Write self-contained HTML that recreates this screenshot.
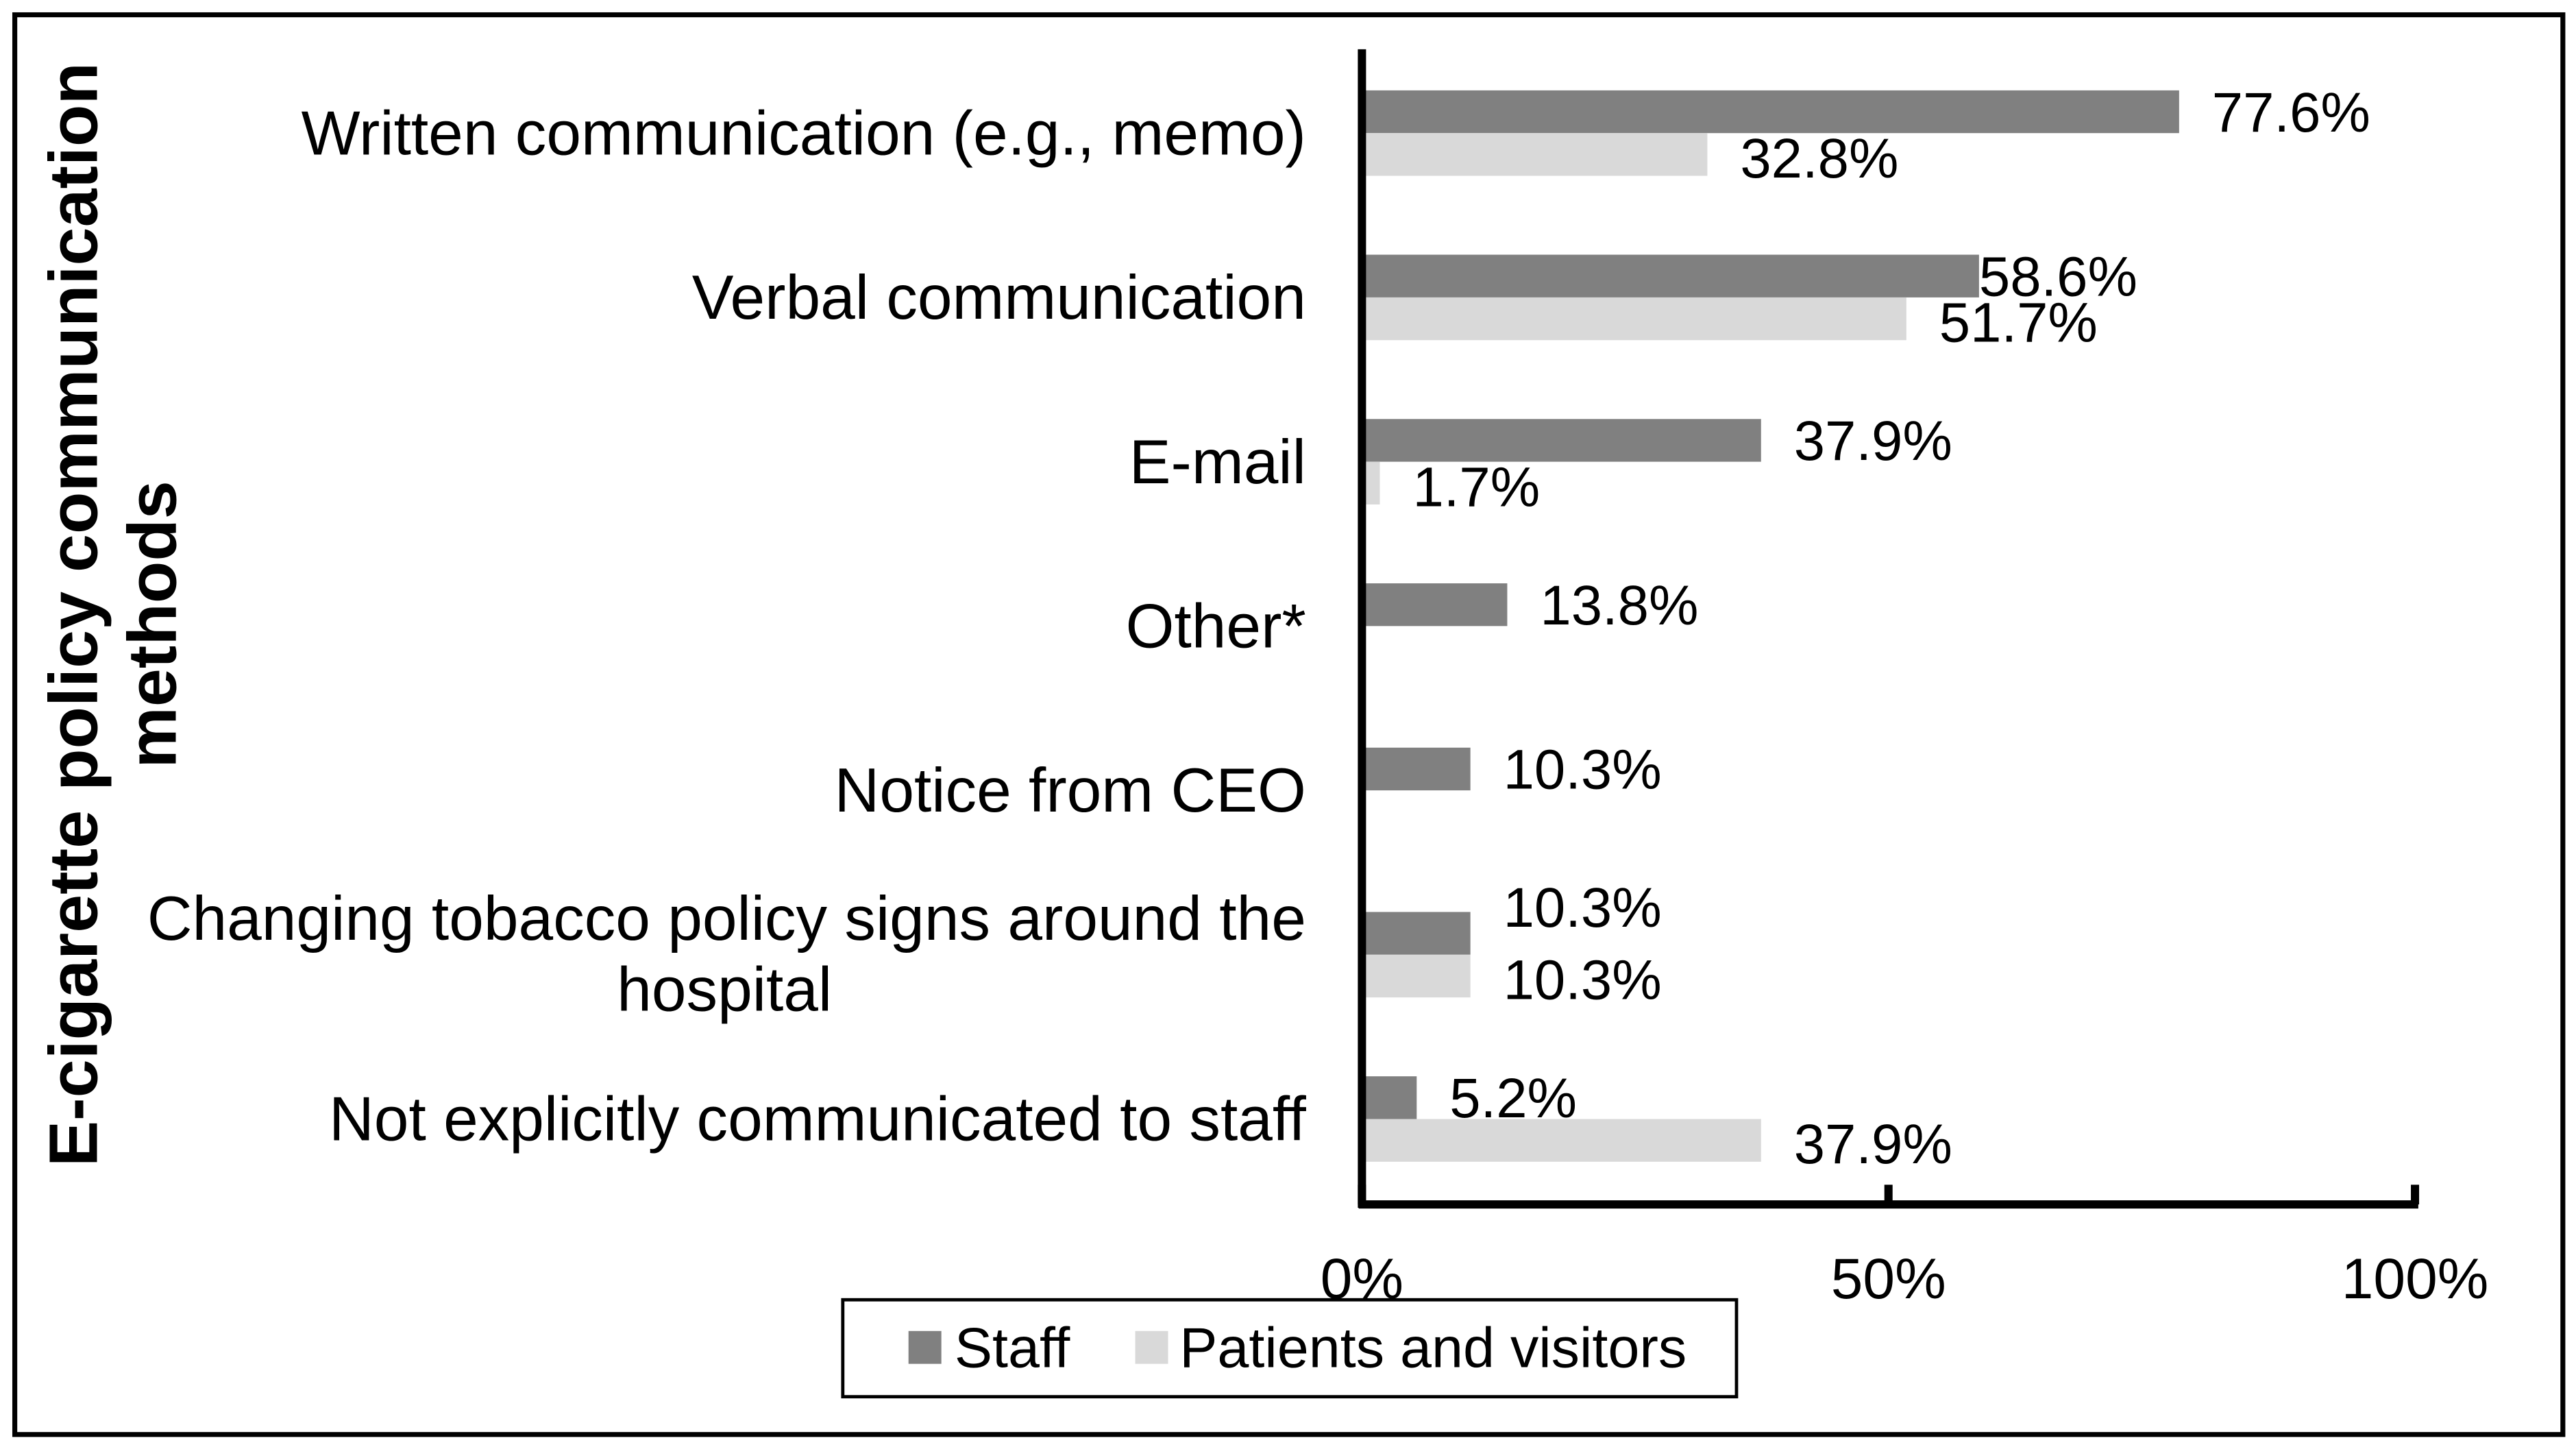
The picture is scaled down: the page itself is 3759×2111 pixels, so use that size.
<!DOCTYPE html>
<html><head><meta charset="utf-8"><style>html,body{margin:0;padding:0;background:#fff}svg{display:block}</style></head>
<body>
<svg id="chart" width="3759" height="2111" viewBox="0 0 1568 880.6" preserveAspectRatio="none" xmlns="http://www.w3.org/2000/svg" font-family="Liberation Sans, Arial, sans-serif">
<rect x="9" y="9" width="1551" height="864" fill="#fff" stroke="#000" stroke-width="3"/>
<text transform="translate(59,374) rotate(-90)" text-anchor="middle" font-size="42" font-weight="bold">E-cigarette policy communication</text>
<text transform="translate(107,380) rotate(-90)" text-anchor="middle" font-size="42" font-weight="bold">methods</text>
<g id="bars"></g>
<g id="axes"></g>
<g>
<rect x="513" y="791" width="544" height="59" fill="#fff" stroke="#000" stroke-width="2"/>
<rect x="553" y="810" width="20" height="20" fill="#808080"/>
<text x="581" y="832" font-size="34.5">Staff</text>
<rect x="691" y="810" width="20" height="20" fill="#d9d9d9"/>
<text x="718" y="832" font-size="34.5">Patients and visitors</text>
</g>
</svg>
<script>
const categories = ["Written communication (e.g., memo)","Verbal communication","E-mail","Other*","Notice from CEO","Changing tobacco policy signs around the|hospital","Not explicitly communicated to staff"];
const staffValues = [77.6,58.6,37.9,13.8,10.3,10.3,5.2];
const patientValues = [32.8,51.7,1.7,null,null,10.3,37.9];
const tickValues = [0,50,100];
const tickLabels = ["0%","50%","100%"];

const NS="http://www.w3.org/2000/svg";
const x0=829, x1=1470, yTop=30, yBot=733;
const xs=v=>x0+(x1-x0)*v/100;
const yc=i=>81+i*100;
const barH=26;
const g=document.getElementById('bars');
const ax=document.getElementById('axes');
function mk(tag,attrs,parent){const e=document.createElementNS(NS,tag);for(const k in attrs)e.setAttribute(k,attrs[k]);parent.appendChild(e);return e;}
function fmt(v){return v.toFixed(1)+"%";}
categories.forEach((c,i)=>{
  const lines=c.split("|");
  if(lines.length===1){
    const t=mk('text',{x:795,y:yc(i)+13,'text-anchor':'end','font-size':38},g);
    
    
    t.textContent=c;
  } else {
    const t=mk('text',{x:795,y:yc(i)-9,'text-anchor':'end','font-size':38},g);
    
    
    t.textContent=lines[0];
    const t2=mk('text',{x:441,y:yc(i)+34,'text-anchor':'middle','font-size':38},g);
    
    
    t2.textContent=lines[1];
  }
  const s=staffValues[i];
  const p=patientValues[i];
  if(s!=null){
    const r=mk('rect',{x:x0,y:yc(i)-barH,width:xs(s)-x0,height:barH,fill:'#808080'},g);
    
    
    const close=(p!=null && Math.abs(s-p)<8);
    const lx=close && s>p ? xs(s) : xs(s)+20;
    const ly=(p!=null && s===p) ? yc(i)-17 : yc(i)-1;
    const t=mk('text',{x:lx,y:ly,'font-size':34},g);
    
    
    t.textContent=fmt(s);
  }
  if(p!=null){
    const r=mk('rect',{x:x0,y:yc(i),width:xs(p)-x0,height:barH,fill:'#d9d9d9'},g);
    
    
    const t=mk('text',{x:xs(p)+20,y:yc(i)+27,'font-size':34},g);
    
    
    t.textContent=fmt(p);
  }
});
const ya=mk('line',{x1:x0,y1:yTop,x2:x0,y2:yBot+2,stroke:'#000','stroke-width':5},ax);


const xa=mk('line',{x1:x0-2,y1:yBot,x2:x1+2,y2:yBot,stroke:'#000','stroke-width':5},ax);


tickValues.forEach((v,i)=>{
  const tk=mk('line',{x1:xs(v),y1:yBot-12,x2:xs(v),y2:yBot,stroke:'#000','stroke-width':5},ax);
  
  
  const t=mk('text',{x:xs(v)+(i===0?0:0),y:790,'text-anchor':'middle','font-size':35},ax);
  
  
  t.textContent=tickLabels[i];
});
</script>
</body></html>
